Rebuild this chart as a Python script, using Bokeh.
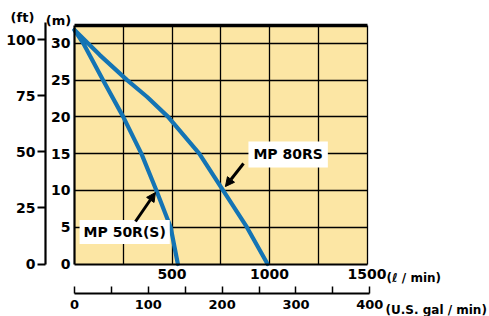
from bokeh.plotting import figure
from bokeh.models import (LinearAxis, Range1d, FixedTicker, Grid, Label, Arrow,
                          NormalHead)
from bokeh.embed import file_html
from bokeh.resources import INLINE

# ---------------- data ----------------
flow_80rs = [0, 130, 270, 373, 480, 640, 762, 884, 990]          # l/min
head_80rs = [31.8, 28.4, 25.0, 22.7, 20.0, 15.0, 10.0, 5.0, 0.0]  # m
flow_50rs = [0, 45, 146, 250, 343, 420, 493, 530]
head_50rs = [31.8, 30.0, 25.0, 20.0, 15.0, 10.0, 5.0, 0.0]

lpm_labels = [500, 1000, 1500]
lpm_grid = [250, 500, 750, 1000, 1250, 1500]
m_ticks = [0, 5, 10, 15, 20, 25, 30]
m_grid = [5, 10, 15, 20, 25, 30]
ft_ticks = [0, 25, 50, 75, 100]
gal_ticks = [0, 100, 200, 300, 400]
gal_minor = [50, 150, 250, 350]

FLOW_MAX = 1500
HEAD_MAX = 32.4
FT_PER_M = 3.28084
L_PER_GAL = 3.78541

# ---------------- styling ----------------
FONT = "DejaVu Sans"
BLUE = "#1474B4"
YELLOW = "#FCE6A4"

W, H = 489, 316
X0, X1 = -379.5, 2128.2
Y0, Y1 = -7.136, 35.82

p = figure(width=W, height=H, x_range=Range1d(X0, X1), y_range=Range1d(Y0, Y1),
           x_axis_type=None, y_axis_type=None, toolbar_location=None,
           output_backend="svg", min_border=0, outline_line_color=None,
           background_fill_color="white", border_fill_color="white")
p.extra_y_ranges = {"ft": Range1d(Y0 * FT_PER_M, Y1 * FT_PER_M)}
p.extra_x_ranges = {"gal": Range1d(X0 / L_PER_GAL, X1 / L_PER_GAL)}

# plot area background
bg = p.quad(left=[0], right=[FLOW_MAX], bottom=[0], top=[HEAD_MAX],
            fill_color=YELLOW, line_color=None)
bg.level = "image"

# grid lines limited to plot area
if "cross_bounds" in Grid.properties():
    p.add_layout(Grid(dimension=0, ticker=FixedTicker(ticks=lpm_grid),
                      cross_bounds=(0, HEAD_MAX), grid_line_color="black",
                      grid_line_width=1.3))
    p.add_layout(Grid(dimension=1, ticker=FixedTicker(ticks=m_grid),
                      cross_bounds=(0, FLOW_MAX), grid_line_color="black",
                      grid_line_width=1.3))
else:
    p.segment(x0=lpm_grid, y0=[0] * len(lpm_grid), x1=lpm_grid,
              y1=[HEAD_MAX] * len(lpm_grid), line_color="black", line_width=1.3)
    p.segment(x0=[0] * len(m_grid), y0=m_grid, x1=[FLOW_MAX] * len(m_grid),
              y1=m_grid, line_color="black", line_width=1.3)

# curves
for fx, hy in ((flow_80rs, head_80rs), (flow_50rs, head_50rs)):
    p.line(x=fx, y=hy, line_color=BLUE, line_width=4.2,
           line_join="round", line_cap="round")


def style_axis(ax, size="14px"):
    ax.major_label_text_font = FONT
    ax.major_label_text_font_style = "bold"
    ax.major_label_text_font_size = size
    ax.major_label_text_color = "black"
    ax.axis_line_color = "black"
    ax.major_tick_line_color = "black"
    ax.minor_tick_line_color = "black"


# metres axis (left border of plot)
m_axis = LinearAxis(ticker=FixedTicker(ticks=m_ticks), fixed_location=0,
                    bounds=(0, HEAD_MAX))
style_axis(m_axis)
m_axis.axis_line_width = 2.2
m_axis.major_tick_in = 0
m_axis.major_tick_out = 0
m_axis.major_label_standoff = 4
p.add_layout(m_axis, "left")

# feet axis
ft_axis = LinearAxis(y_range_name="ft", ticker=FixedTicker(ticks=ft_ticks),
                     fixed_location=-148.7, bounds=(0, 107.8))
style_axis(ft_axis)
ft_axis.axis_line_width = 2.2
ft_axis.major_tick_in = 0
ft_axis.major_tick_out = 8
ft_axis.major_tick_line_width = 1.8
ft_axis.major_label_standoff = 2
p.add_layout(ft_axis, "left")

# l/min axis (bottom border of plot)
l_axis = LinearAxis(ticker=FixedTicker(ticks=lpm_labels), fixed_location=0,
                    bounds=(0, FLOW_MAX))
style_axis(l_axis)
l_axis.axis_line_width = 2.2
l_axis.major_tick_in = 0
l_axis.major_tick_out = 0
l_axis.major_label_standoff = 5
p.add_layout(l_axis, "below")

# top border
top_axis = LinearAxis(ticker=FixedTicker(ticks=[]), fixed_location=HEAD_MAX,
                      bounds=(0, FLOW_MAX))
top_axis.axis_line_width = 3.5
top_axis.axis_line_color = "black"
top_axis.major_tick_in = 0
top_axis.major_tick_out = 0
p.add_layout(top_axis, "above")

# US gal/min axis
g_axis = LinearAxis(x_range_name="gal",
                    ticker=FixedTicker(ticks=gal_ticks, minor_ticks=gal_minor),
                    fixed_location=-4.01, bounds=(0, 400))
style_axis(g_axis, "13px")
g_axis.axis_line_width = 2.2
g_axis.major_tick_in = 7
g_axis.major_tick_out = 0
g_axis.minor_tick_in = 7
g_axis.minor_tick_out = 0
g_axis.major_tick_line_width = 1.5
g_axis.minor_tick_line_width = 1.5
g_axis.major_label_standoff = 6
p.add_layout(g_axis, "below")


def add_label(x, y, text, align="center", size="13px", bg=None, pad=0):
    kw = {}
    if bg:
        kw = dict(background_fill_color=bg, padding=pad)
    lab = Label(x=x, y=y, text=text, text_font=FONT, text_font_style="bold",
                text_font_size=size, text_color="black", text_align=align,
                text_baseline="middle", **kw)
    p.add_layout(lab)


# unit labels
add_label(-266.7, 33.5, "(ft)")
add_label(-82.1, 33.1, "(m)")
add_label(1600, -1.9, "(ℓ / min)", align="left", size="12px")
add_label(1595, -6.32, "(U.S. gal / min)", align="left", size="12px")

# series labels with arrows
add_label(892, 14.9, "MP 80RS", align="left", size="14px", bg="white", pad=5)
add_label(26, 4.35, "MP 50R(S)", align="left", size="14px", bg="white", pad=4)

for xs, ys, xe, ye in ((866.7, 13.66, 774, 10.53), (312.8, 5.78, 415, 9.72)):
    p.add_layout(Arrow(end=NormalHead(size=9, fill_color="black", line_color="black"),
                       x_start=xs, y_start=ys, x_end=xe, y_end=ye,
                       line_width=3, line_color="black"))

open("out.html", "w").write(file_html(p, INLINE, title="pump curve"))
